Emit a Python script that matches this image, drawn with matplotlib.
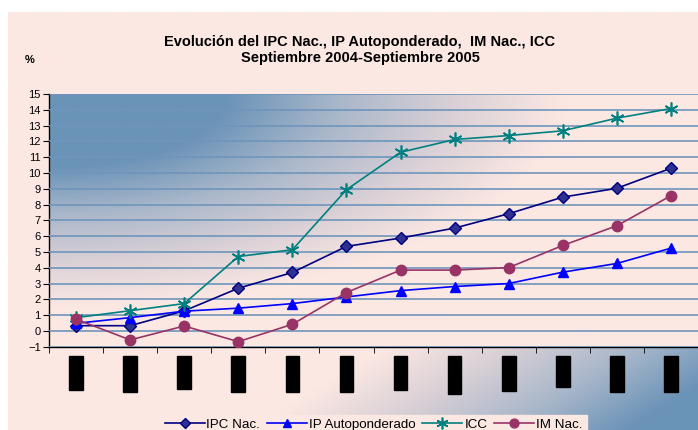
import numpy as np
import matplotlib
matplotlib.use("Agg")
import matplotlib.pyplot as plt
from matplotlib.colors import LinearSegmentedColormap

plt.rcParams['font.family'] = ['Liberation Sans', 'DejaVu Sans']

# data
meses = ['Oct-04', 'Nov-04', 'Dic-04', 'Ene-05', 'Feb-05', 'Mar-05',
         'Abr-05', 'May-05', 'Jun-05', 'Jul-05', 'Ago-05', 'Sep-05']
ipc_nac = [0.33, 0.33, 1.27, 2.70, 3.70, 5.35, 5.88, 6.51, 7.42, 8.47, 9.03, 10.30]
ip_auto = [0.48, 0.84, 1.25, 1.44, 1.73, 2.15, 2.55, 2.81, 3.00, 3.72, 4.27, 5.24]
icc = [0.84, 1.28, 1.73, 4.71, 5.14, 8.94, 11.31, 12.12, 12.37, 12.67, 13.47, 14.08]
im_nac = [0.74, -0.57, 0.31, -0.68, 0.42, 2.43, 3.85, 3.85, 4.01, 5.41, 6.66, 8.56]

W, H = 698, 430
pink = '#fce8e3'
blue = '#6b93b8'
cmap = LinearSegmentedColormap.from_list('pb', [pink, '#d9d0d6', '#a9b7ca', blue])

fig = plt.figure(figsize=(W / 100, H / 100), dpi=100, facecolor='white')

# background of the chart area (pink -> blue at bottom right)
bg = fig.add_axes([8 / W, 0, 1 - 8 / W, 1 - 12 / H], zorder=-10)
u, v = np.meshgrid(np.linspace(0, 1, 300), np.linspace(0, 1, 200))
t = np.clip((u + v - 1.35) / 0.55, 0, 1)
bg.imshow(t, cmap=cmap, vmin=0, vmax=1, aspect='auto', extent=(0, 1, 1, 0))
bg.set_axis_off()

# plot area
ax = fig.add_axes([49 / W, 83.3 / H, 649 / W, 252.7 / H])
u, v = np.meshgrid(np.linspace(0, 1, 300), np.linspace(0, 1, 200))
r = np.sqrt((u / 0.85) ** 2 + (v / 0.9) ** 2)
tp = 1 - np.clip((r - 0.32) / 0.62, 0, 1)
ax.imshow(tp, cmap=cmap, vmin=0, vmax=1, aspect='auto',
          extent=(-0.5, 11.5, -1, 15), zorder=0)

x = np.arange(len(meses))
ax.plot(x, ipc_nac, color='#000080', lw=1.2, marker='D', ms=6.5,
        mfc='#2e3192', mec='#000080', label='IPC Nac.', zorder=5)
ax.plot(x, ip_auto, color='#0000ff', lw=1.2, marker='^', ms=6.5,
        mfc='#0000ff', mec='#0000ff', label='IP Autoponderado', zorder=5)
ax.plot(x, icc, color='#008080', lw=1.2, marker=(6, 2, 0), ms=10, mew=1.2,
        mec='#008080', label='ICC', zorder=5)
ax.plot(x, im_nac, color='#993366', lw=1.2, marker='o', ms=7.5,
        mfc='#993366', mec='#993366', label='IM Nac.', zorder=5)

ax.set_xlim(-0.5, 11.5)
ax.set_ylim(-1, 15)
ax.set_yticks(range(-1, 16))
ax.grid(axis='y', color='#6f95bb', lw=1.2, zorder=1)
ax.set_axisbelow(False)
for s in ['top', 'right']:
    ax.spines[s].set_visible(False)
ax.spines['left'].set_linewidth(1)
ax.spines['bottom'].set_linewidth(1)
ax.tick_params(axis='y', labelsize=8, length=4, direction='out', pad=2)

ax.set_xticks(x)
ax.set_xticklabels(meses, rotation=90, fontsize=7.3, color='black', va='top')
for lab in ax.get_xticklabels():
    lab.set_bbox(dict(facecolor='black', edgecolor='black', pad=1.3))
ax.set_xticks(np.arange(-0.5, 12, 1), minor=True)
ax.tick_params(axis='x', which='major', length=0, pad=8)
ax.tick_params(axis='x', which='minor', length=4, direction='out')

fig.text(0.5 * (145 + 575) / W, 1 - 42 / H,
         'Evolución del IPC Nac., IP Autoponderado,  IM Nac., ICC',
         ha='center', va='center', fontsize=10.5, fontweight='bold')
fig.text(0.5 * (145 + 575) / W, 1 - 58 / H, 'Septiembre 2004-Septiembre 2005',
         ha='center', va='center', fontsize=10.5, fontweight='bold')
fig.text(30 / W, 1 - 60 / H, '%', ha='center', va='center', fontsize=8,
         fontweight='bold')

leg = fig.legend(loc='lower center', bbox_to_anchor=(373.5 / W, -0.012), ncol=4,
                 fontsize=9.6, frameon=True, fancybox=False, facecolor=pink,
                 edgecolor=pink, framealpha=1, handlelength=3.0,
                 handletextpad=0.15, columnspacing=0.5, borderpad=0.3,
                 borderaxespad=0, markerscale=0.85)

fig.savefig('out.png', dpi=100, facecolor='white')
